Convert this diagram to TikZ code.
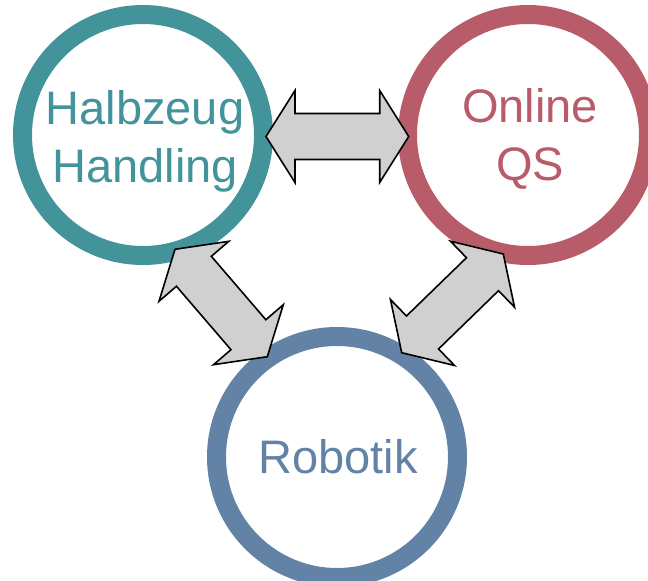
\documentclass[tikz,border=0pt]{standalone}
\usepackage{fontspec}
\setmainfont{Liberation Sans}
\usetikzlibrary{calc}
\definecolor{tealc}{RGB}{67,147,155}
\definecolor{rosec}{RGB}{183,92,104}
\definecolor{bluec}{RGB}{98,131,166}
\definecolor{arrgray}{RGB}{208,208,208}
\tikzset{
  ring/.style={circle, draw=#1, line width=19pt, minimum size=241pt, inner sep=0pt},
  lbl/.style={text=#1, align=center, inner sep=0pt, font=\fontsize{47}{58}\selectfont},
  arr/.style={draw=black, fill=arrgray, line width=1.6pt, line join=miter}
}
\newcommand{\dblarr}[2]{%
  \path ($(#1)!29pt!(#2)$) coordinate (h1) ($(#2)!29pt!(#1)$) coordinate (h2);
  \draw[arr] (#1) -- ($(h1)!46pt!90:(#2)$) -- ($(h1)!23pt!90:(#2)$)
    -- ($(h2)!23pt!-90:(#1)$) -- ($(h2)!46pt!-90:(#1)$) -- (#2)
    -- ($(h2)!46pt!90:(#1)$) -- ($(h2)!23pt!90:(#1)$)
    -- ($(h1)!23pt!-90:(#2)$) -- ($(h1)!46pt!-90:(#2)$) -- cycle;
}
\begin{document}
\begin{tikzpicture}[x=1pt,y=-1pt]
  \useasboundingbox (0,0) rectangle (648,581);
  \clip (0,0) rectangle (648,581);
  \node[ring=tealc] (H) at (143,135) {};
  \node[ring=rosec] (Q) at (528,135) {};
  \node[ring=bluec] (R) at (337,457) {};
  \node[lbl=tealc] (Ht) at (145,141) {Halbzeug\\Handling};
  \node[lbl=rosec] (Qt) at (530,139) {Online\\QS};
  \node[lbl=bluec, anchor=base] (Rt) at (338,473) {Robotik};
  \coordinate (a1) at (266,136.5);
  \coordinate (a2) at (408.7,136.5);
  \coordinate (b1) at (175,249.3);
  \coordinate (b2) at (267.3,356.7);
  \coordinate (c1) at (503.3,254);
  \coordinate (c2) at (401.7,352.7);
  \dblarr{a1}{a2}
  \dblarr{b1}{b2}
  \dblarr{c1}{c2}
\end{tikzpicture}
\end{document}
